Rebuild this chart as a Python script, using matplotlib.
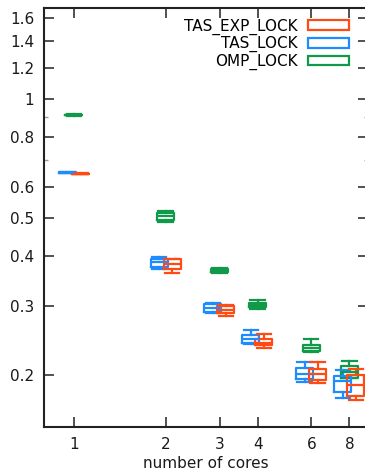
import matplotlib
matplotlib.use("Agg")
import matplotlib.pyplot as plt
from matplotlib.patches import Patch
from matplotlib.ticker import NullLocator, NullFormatter

# runtime (s) per core count, five-number summaries
cores = [1, 2, 3, 4, 6, 8]

exp_lo = [0.645, 0.364, 0.283, 0.234, 0.191, 0.173]
exp_q1 = [0.646, 0.371, 0.287, 0.238, 0.195, 0.177]
exp_med = [0.647, 0.382, 0.292, 0.242, 0.201, 0.189]
exp_q3 = [0.648, 0.393, 0.299, 0.247, 0.208, 0.200]
exp_hi = [0.650, 0.395, 0.302, 0.254, 0.2156, 0.207]

tas_lo = [0.649, 0.371, 0.287, 0.2406, 0.1924, 0.1753]
tas_q1 = [0.650, 0.376, 0.289, 0.242, 0.196, 0.181]
tas_med = [0.651, 0.387, 0.296, 0.247, 0.202, 0.193]
tas_q3 = [0.652, 0.395, 0.303, 0.2527, 0.2089, 0.199]
tas_hi = [0.653, 0.399, 0.305, 0.260, 0.2156, 0.206]

omp_lo = [0.905, 0.488, 0.362, 0.294, 0.229, 0.1965]
omp_q1 = [0.909, 0.494, 0.365, 0.298, 0.2306, 0.197]
omp_med = [0.911, 0.506, 0.367, 0.302, 0.235, 0.204]
omp_q3 = [0.913, 0.515, 0.371, 0.305, 0.238, 0.211]
omp_hi = [0.917, 0.522, 0.374, 0.311, 0.2465, 0.2175]

yticks = [0.2, 0.3, 0.4, 0.5, 0.6, 0.8, 1, 1.2, 1.4, 1.6]
yminor = [0.7, 0.9]

c_exp = "#ff4a14"
c_tas = "#1e8cff"
c_omp = "#11994a"

# (label, color, shift in decades, stats)
series = [
    ("OMP_LOCK", c_omp, 0.0, (omp_lo, omp_q1, omp_med, omp_q3, omp_hi)),
    ("TAS_LOCK", c_tas, -0.0213, (tas_lo, tas_q1, tas_med, tas_q3, tas_hi)),
    ("TAS_EXP_LOCK", c_exp, 0.0213, (exp_lo, exp_q1, exp_med, exp_q3, exp_hi)),
]
half = 0.0279  # half box width in decades

fig = plt.figure(figsize=(3.65, 4.7), dpi=100)
ax = fig.add_axes([44 / 365, 43 / 470, 324 / 365, 419 / 470])
ax.set_xscale("log")
ax.set_yscale("log")

for label, col, shift, (lo, q1, med, q3, hi) in series:
    stats = []
    for i in range(len(cores)):
        stats.append(dict(whislo=lo[i], q1=q1[i], med=med[i], q3=q3[i],
                          whishi=hi[i], fliers=[]))
    pos = [c * 10 ** shift for c in cores]
    wid = [p * (10 ** half - 10 ** -half) for p in pos]
    lp = dict(color=col, linewidth=1.6)
    ax.bxp(stats, positions=pos, widths=wid, capwidths=[w * 0.85 for w in wid],
           showfliers=False, manage_ticks=False,
           boxprops=lp, whiskerprops=lp, capprops=lp, medianprops=lp)

ax.set_xlim(0.797, 9.2)
ax.set_ylim(0.148, 1.70)

ax.set_xticks(cores)
ax.set_xticklabels([str(c) for c in cores])
ax.xaxis.set_minor_locator(NullLocator())
ax.set_yticks(yticks)
ax.set_yticklabels(["%g" % t for t in yticks])
ax.set_yticks(yminor, minor=True)
ax.yaxis.set_minor_formatter(NullFormatter())

ax.tick_params(which="both", direction="in", top=True, right=True,
               labelsize=11, labelcolor="#1a1a1a", color="#333333", pad=7)
ax.tick_params(which="major", length=7, width=1.2)
ax.tick_params(which="minor", length=3, width=1.0, color="#999999")
for s in ax.spines.values():
    s.set_linewidth(1.5)
    s.set_color("#222222")
ax.spines["right"].set_visible(False)

ax.set_xlabel("number of cores", fontsize=11, color="#1a1a1a", labelpad=3)

handles = [Patch(facecolor="none", edgecolor=c, linewidth=1.6) for c in (c_exp, c_tas, c_omp)]
ax.legend(handles, ["TAS_EXP_LOCK", "TAS_LOCK", "OMP_LOCK"], loc="upper right",
          bbox_to_anchor=(0.941, 0.975), frameon=False, markerfirst=False,
          fontsize=11, handlelength=2.7, handleheight=0.6, handletextpad=0.65,
          labelspacing=0.1, borderpad=0, borderaxespad=0)

fig.savefig("out.png", dpi=100)
